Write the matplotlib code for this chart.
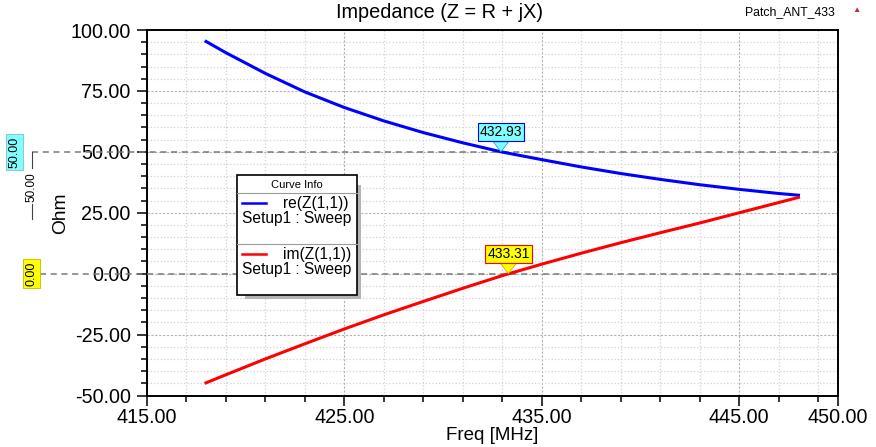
import numpy as np
import matplotlib
matplotlib.use("Agg")
import matplotlib.pyplot as plt
from matplotlib.ticker import FixedLocator, MultipleLocator, FormatStrFormatter
from matplotlib.patches import Rectangle
from matplotlib.lines import Line2D
import matplotlib.transforms as mtransforms

plt.rcParams['font.family'] = ['Liberation Sans', 'DejaVu Sans']

# data
freq = [418, 419, 421, 423, 425, 427, 429, 431, 433, 435, 437, 439, 441, 443, 445, 447, 448]
re_z = [95.3, 90.7, 82.2, 74.6, 68.2, 62.7, 57.9, 53.7, 49.9, 46.8, 43.8, 41.1, 38.7, 36.5, 34.6, 32.9, 32.2]
im_z = [-44.8, -41.5, -35.0, -28.8, -22.7, -16.9, -11.4, -6.0, -0.8, 3.9, 8.4, 12.7, 16.8, 20.8, 25.0, 29.2, 31.3]

x_major = [415, 425, 435, 445, 450]
x_minor = list(range(417, 450, 2))

ref_lines = [50.0, 0.0]
mark_re = (432.93, 50.0)
mark_im = (433.31, 0.0)

W, H = 876, 447
fig = plt.figure(figsize=(W / 100, H / 100), dpi=100)


def fx(px):
    return px / W


def fy(py):
    return 1 - py / H


ax = fig.add_axes([fx(146.8), fy(395.5), fx(838) - fx(146.8), fy(30) - fy(395.5)])

ax.set_xlim(415, 450)
ax.set_ylim(-50, 100)
ax.xaxis.set_major_locator(FixedLocator(x_major))
ax.xaxis.set_minor_locator(FixedLocator(x_minor))
ax.yaxis.set_major_locator(MultipleLocator(25))
ax.yaxis.set_minor_locator(MultipleLocator(5))
ax.xaxis.set_major_formatter(FormatStrFormatter('%.2f'))
ax.yaxis.set_major_formatter(FormatStrFormatter('%.2f'))

ax.grid(which='minor', color='#d6d0d6', linestyle=':', linewidth=0.9)
ax.grid(which='major', color='#b2b2b2', linestyle=(0, (2, 1.5)), linewidth=0.8)
ax.set_axisbelow(True)

for sp in ax.spines.values():
    sp.set_linewidth(1.4)
    sp.set_color('black')

ax.tick_params(axis='both', which='major', direction='out', length=7.5, width=1.1, labelsize=14.2)
ax.tick_params(axis='both', which='minor', direction='out', length=4, width=1.1)
ax.tick_params(axis='x', which='major', pad=1.2)
ax.tick_params(axis='y', which='major', pad=4)

ax.plot(freq, re_z, color='#0000ff', linewidth=2.2, zorder=4)
ax.plot(freq, im_z, color='#ff0000', linewidth=2.2, zorder=4)

ax.set_xlabel('Freq [MHz]', fontsize=13.5, labelpad=0)
ax.set_ylabel('Ohm', fontsize=13.8, labelpad=1)

# dashed marker lines, running out to the left margin boxes
blend = mtransforms.blended_transform_factory(fig.transFigure, ax.transData)
starts = [fx(32), fx(40)]
for yv, x0 in zip(ref_lines, starts):
    ax.add_line(Line2D([x0, fx(838)], [yv, yv], transform=blend, color='#7a7a7a',
                       linestyle=(0, (4, 3)), linewidth=1.1, clip_on=False, zorder=3))

# left side marker boxes
fig.text(fx(14.7), fy(152), '%.2f' % ref_lines[0], rotation=90, ha='center', va='center', fontsize=9,
         bbox=dict(boxstyle='square,pad=0.2', fc='#80ffff', ec='#80c0c0', lw=0.6))
fig.text(fx(31.5), fy(273.5), '%.2f' % ref_lines[1], rotation=90, ha='center', va='center', fontsize=9,
         bbox=dict(boxstyle='square,pad=0.2', fc='#ffff00', ec='#c0c000', lw=0.6))
# delta indicator between the two reference lines
fig.add_artist(Line2D([fx(31.7), fx(31.7)], [fy(152), fy(168)], color='#404040', lw=0.8))
fig.add_artist(Line2D([fx(31.7), fx(31.7)], [fy(204), fy(219)], color='#404040', lw=0.8))
fig.text(fx(31.7), fy(187.5), '%.2f' % (ref_lines[0] - ref_lines[1]), rotation=90,
         ha='center', va='center', fontsize=8.5)

# markers on the curves
ax.annotate('%.2f' % mark_re[0], xy=mark_re, xytext=(0, 14), textcoords='offset points',
            ha='center', va='center', fontsize=10, zorder=6,
            bbox=dict(boxstyle='square,pad=0.15', fc='#80ffff', ec='#0000ff', lw=0.8),
            arrowprops=dict(arrowstyle='wedge,tail_width=1.1', fc='#80ffff', ec='#00a0c0',
                            lw=0.5, shrinkA=0, shrinkB=0))
ax.annotate('%.2f' % mark_im[0], xy=mark_im, xytext=(0, 14), textcoords='offset points',
            ha='center', va='center', fontsize=10, zorder=6,
            bbox=dict(boxstyle='square,pad=0.15', fc='#ffff00', ec='#ff0000', lw=0.8),
            arrowprops=dict(arrowstyle='wedge,tail_width=1.1', fc='#ffff00', ec='#c0a000',
                            lw=0.5, shrinkA=0, shrinkB=0))

# titles
fig.text(fx(440), fy(12), 'Impedance (Z = R + jX)', ha='center', va='center', fontsize=14.3)
fig.text(fx(790), fy(12), 'Patch_ANT_433', ha='center', va='center', fontsize=8.8)
fig.text(fx(856), fy(10), '\u25b2', ha='center', va='center', fontsize=6, color='#c03030')

# curve info box
lx0, ly0, lx1, ly1 = 237.3, 175, 356.7, 295
fig.add_artist(Rectangle((fx(245), fy(299)), fx(361) - fx(245), fy(185) - fy(299),
                         transform=fig.transFigure, fc='#b4b4b4', ec='none', zorder=7))
fig.add_artist(Rectangle((fx(lx0), fy(ly1)), fx(lx1) - fx(lx0), fy(ly0) - fy(ly1),
                         transform=fig.transFigure, fc='white', ec='black', lw=1.2, zorder=8))
fig.text(fx(296.7), fy(185), 'Curve Info', ha='center', va='center', fontsize=8, zorder=9)
for yy in [193.3, 244]:
    fig.add_artist(Line2D([fx(lx0), fx(lx1)], [fy(yy), fy(yy)], color='#9a9a9a', lw=0.8, zorder=9))
entries = [('re(Z(1,1))', '#0000ff', 203.3), ('im(Z(1,1))', '#ff0000', 254.3)]
for name, col, yy in entries:
    fig.add_artist(Line2D([fx(242.3), fx(265.7)], [fy(yy), fy(yy)], color=col, lw=1.8, zorder=9))
    fig.text(fx(283), fy(yy), name, ha='left', va='center', fontsize=11.2, zorder=9)
    fig.text(fx(242), fy(yy + 15.5), 'Setup1 : Sweep', ha='left', va='center', fontsize=11.2, zorder=9)

fig.savefig('out.png', dpi=100)
